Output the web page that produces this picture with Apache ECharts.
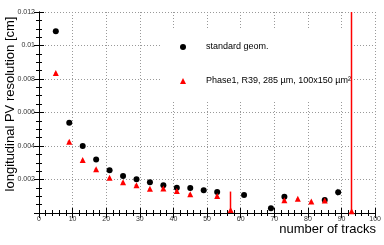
<!DOCTYPE html>
<html><head><meta charset="utf-8">
<script src="https://cdn.jsdelivr.net/npm/echarts@6/dist/echarts.min.js"></script>
<style>html,body{margin:0;padding:0;background:#fff}#c{width:384px;height:245px}</style>
</head><body><div id="c"></div>
<script>
// ---- data ----
const stdX   = [5, 9, 13, 17, 21, 25, 29, 33, 37, 41, 45, 49, 53, 61, 69, 73, 85, 89];
const stdY   = [0.01085, 0.00539, 0.0040, 0.0032, 0.00255, 0.00221, 0.00201, 0.00183, 0.00165, 0.00151, 0.00149, 0.00136, 0.00125, 0.00107, 0.00028, 0.00097, 0.00078, 0.00124];
const stdErr = [0.00005, 0.00005, 0.00005, 0.00005, 0.00005, 0.00005, 0.00005, 0.00005, 0.00005, 0.00005, 0.00005, 0.00005, 0.00006, 0.00006, 0.0001, 0.0001, 0.00008, 0.0002];
const phX    = [5, 9, 13, 17, 21, 25, 29, 33, 37, 41, 45, 53, 57, 73, 77, 81, 85, 93];
const phY    = [0.00836, 0.00426, 0.00316, 0.00261, 0.00211, 0.00183, 0.00165, 0.00145, 0.00147, 0.00131, 0.00112, 0.00101, 0.00018, 0.00076, 0.00085, 0.00068, 0.00074, 0.0001];
const phErr  = [0.00005, 0.00005, 0.00005, 0.00005, 0.00005, 0.00005, 0.00005, 0.00005, 0.00005, 0.00005, 0.00005, 0.00005, 0.0011, 0.00005, 0.00005, 0.00005, 0.00005, 0.05];
const stdName = 'standard geom.';
const phName  = 'Phase1, R39, 285 µm, 100x150 µm²';
const xTitle = 'number of tracks';
const yTitle = 'longitudinal PV resolution [cm]';

const FONT = 'Liberation Sans, Arial, Helvetica, sans-serif';
const zip = (xs, ys) => xs.map((x, i) => [x, ys[i]]);
const errData = (xs, ys, es) => xs.map((x, i) => [x, ys[i] - es[i], ys[i] + es[i]]);

function errRender(color, width) {
  return function (params, api) {
    const p1 = api.coord([api.value(0), api.value(1)]);
    const p2 = api.coord([api.value(0), api.value(2)]);
    const x = Math.round(p1[0]) - 0.5;
    return {
      type: 'line',
      shape: { x1: x, y1: p1[1], x2: x, y2: p2[1] },
      style: { stroke: color, lineWidth: width }
    };
  };
}

const axisLine = { show: true, lineStyle: { color: '#000', width: 1 } };
const axisTick = { show: true, inside: true, length: 5, lineStyle: { color: '#000' } };

const chart = echarts.init(document.getElementById('c'), null, { renderer: 'canvas' });
chart.setOption({
  animation: false,
  backgroundColor: '#fff',
  grid: { left: 39, top: 12, width: 338, height: 201, containLabel: false },
  xAxis: [
    {
      type: 'value', min: 0, max: 100, interval: 10, position: 'bottom',
      axisLine, axisTick,
      minorTick: { show: true, splitNumber: 5, length: 3, lineStyle: { color: '#000' } },
      axisLabel: { fontSize: 7, color: '#333', margin: 3, fontFamily: FONT },
      splitLine: { show: true, lineStyle: { color: '#999', type: [1, 2], width: 1 } }
    },
    {
      type: 'value', min: 0, max: 100, interval: 10, position: 'top',
      axisLine, axisTick,
      minorTick: { show: true, splitNumber: 5, length: 3, lineStyle: { color: '#000' } },
      axisLabel: { show: false }, splitLine: { show: false }
    }
  ],
  yAxis: [
    {
      type: 'value', min: 0, max: 0.012, interval: 0.002, position: 'left',
      axisLine, axisTick,
      minorTick: { show: true, splitNumber: 4, length: 3, lineStyle: { color: '#000' } },
      axisLabel: { fontSize: 7, color: '#333', margin: 4, fontFamily: FONT,
        formatter: v => v === 0 ? '' : String(parseFloat(v.toFixed(4))) },
      splitLine: { show: true, lineStyle: { color: '#999', type: [1, 2], width: 1 } }
    },
    {
      type: 'value', min: 0, max: 0.012, interval: 0.002, position: 'right',
      axisLine, axisTick,
      minorTick: { show: true, splitNumber: 4, length: 3, lineStyle: { color: '#000' } },
      axisLabel: { show: false }, splitLine: { show: false }
    }
  ],
  legend: {
    data: [stdName, phName],
    orient: 'vertical', left: 160, top: 29,
    backgroundColor: '#fff', padding: [13, 0, 14, 20],
    itemWidth: 6, itemHeight: 6, itemGap: 24,
    selectedMode: false,
    textStyle: { fontSize: 9, color: '#000', fontFamily: FONT, lineHeight: 10, padding: [0, 0, 0, 15] }
  },
  graphic: [
    { type: 'text', x: 10, y: 104, rotation: Math.PI / 2,
      style: { text: yTitle, fontSize: 13, fontFamily: FONT, fill: '#000', align: 'center', verticalAlign: 'middle' } },
    { type: 'text', x: 376, y: 229,
      style: { text: xTitle, fontSize: 13, fontFamily: FONT, fill: '#000', align: 'right', verticalAlign: 'middle' } }
  ],
  series: [
    { type: 'custom', name: 'stdErr', clip: true, renderItem: errRender('#888', 1), data: errData(stdX, stdY, stdErr), z: 1, silent: true },
    { type: 'custom', name: 'phErr', clip: true, renderItem: errRender('#ff0000', 1.5), data: errData(phX, phY, phErr), z: 10, silent: true,
      itemStyle: { color: '#ff0000' } },
    { type: 'scatter', name: stdName, data: zip(stdX, stdY), symbol: 'circle', symbolSize: 6, itemStyle: { color: '#000', opacity: 1 }, z: 3 },
    { type: 'scatter', name: phName, data: zip(phX, phY), symbol: 'triangle', symbolSize: 6, itemStyle: { color: '#ff0000', opacity: 1 }, z: 11 }
  ]
});
</script>
</body></html>
